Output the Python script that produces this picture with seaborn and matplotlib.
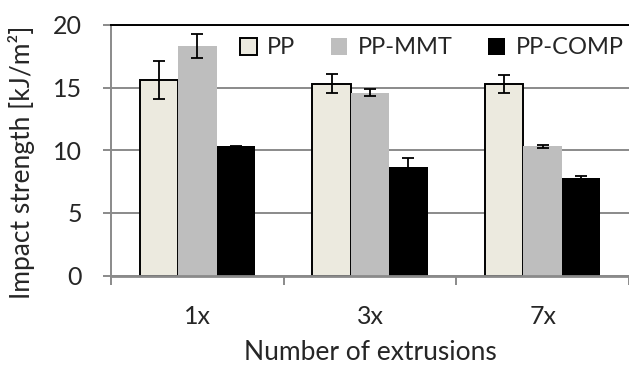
import matplotlib

matplotlib.use("Agg")
import matplotlib.pyplot as plt
import seaborn as sns
import pandas as pd

# データ
extrusions = ["1x", "3x", "7x"]
materials = ["PP", "PP-MMT", "PP-COMP"]
pp_values = [15.6, 15.3, 15.3]
mmt_values = [18.3, 14.6, 10.3]
comp_values = [10.3, 8.7, 7.8]
pp_err = [1.5, 0.75, 0.7]
mmt_err = [0.95, 0.3, 0.15]
comp_err = [0.05, 0.7, 0.12]
colors = ["#ECEADF", "#BEBEBE", "#000000"]

values = [pp_values, mmt_values, comp_values]
errors = [pp_err, mmt_err, comp_err]

df = pd.DataFrame(
    {
        "extrusions": [e for _ in materials for e in extrusions],
        "material": [m for m in materials for _ in extrusions],
        "strength": [v for vals in values for v in vals],
    }
)

sns.set_style("white")
plt.rcParams["font.family"] = ["Lato", "DejaVu Sans"]

fig = plt.figure(figsize=(6.29, 3.70), dpi=100)
ax = fig.add_axes([111 / 629, 94.5 / 370, 1 - 111 / 629, 250.5 / 370])

sns.barplot(
    data=df,
    x="extrusions",
    y="strength",
    hue="material",
    order=extrusions,
    hue_order=materials,
    palette=colors,
    width=0.667,
    saturation=1,
    errorbar=None,
    legend=False,
    ax=ax,
)

# 棒の枠線とエラーバー
for container, err in zip(ax.containers, errors):
    xs = [p.get_x() + p.get_width() / 2 for p in container]
    hs = [p.get_height() for p in container]
    for p in container:
        p.set_linewidth(0)
    ax.errorbar(xs, hs, yerr=err, fmt="none", ecolor="black",
                elinewidth=1.3, capsize=4.5, capthick=1.3, zorder=5)
for p in ax.containers[0]:
    p.set_edgecolor("black")
    p.set_linewidth(1.4)

ax.set_ylim(0, 20)
ax.set_xlim(-0.5, 2.455)
ax.set_yticks([0, 5, 10, 15, 20])
ax.yaxis.grid(True, color="#8A8A8A", linewidth=1.4)
ax.set_axisbelow(True)

ax.spines["right"].set_visible(False)
ax.spines["top"].set_color("black")
ax.spines["top"].set_linewidth(1.4)
ax.spines["left"].set_color("#8A8A8A")
ax.spines["left"].set_linewidth(1.4)
ax.spines["bottom"].set_color("#8A8A8A")
ax.spines["bottom"].set_linewidth(2)

ax.set_xticks([-0.5, 0.5, 1.5, 2.5], minor=True)
ax.tick_params(axis="x", which="major", bottom=False, length=0, pad=21,
               labelsize=18)
ax.tick_params(axis="x", which="minor", bottom=True, length=6.5, width=1.4,
               color="#8A8A8A", direction="out")
ax.tick_params(axis="y", length=6, width=1.4, color="#8A8A8A",
               direction="out", left=True, pad=15, labelsize=18)

ax.set_xlabel("Number of extrusions", fontsize=19, labelpad=9)
ax.set_ylabel("Impact strength [kJ/m²]", fontsize=19)
ax.yaxis.set_label_coords(-0.147, 0.45)

ax.legend(ax.containers, materials, loc="center left", ncol=3,
          bbox_to_anchor=(240 / 629, 1 - 48 / 370),
          bbox_transform=fig.transFigure, frameon=False, fontsize=17,
          handlelength=0.7, handleheight=0.7, handletextpad=0.45,
          columnspacing=1.5, borderpad=0, borderaxespad=0)

fig.savefig("out.png", dpi=100)
